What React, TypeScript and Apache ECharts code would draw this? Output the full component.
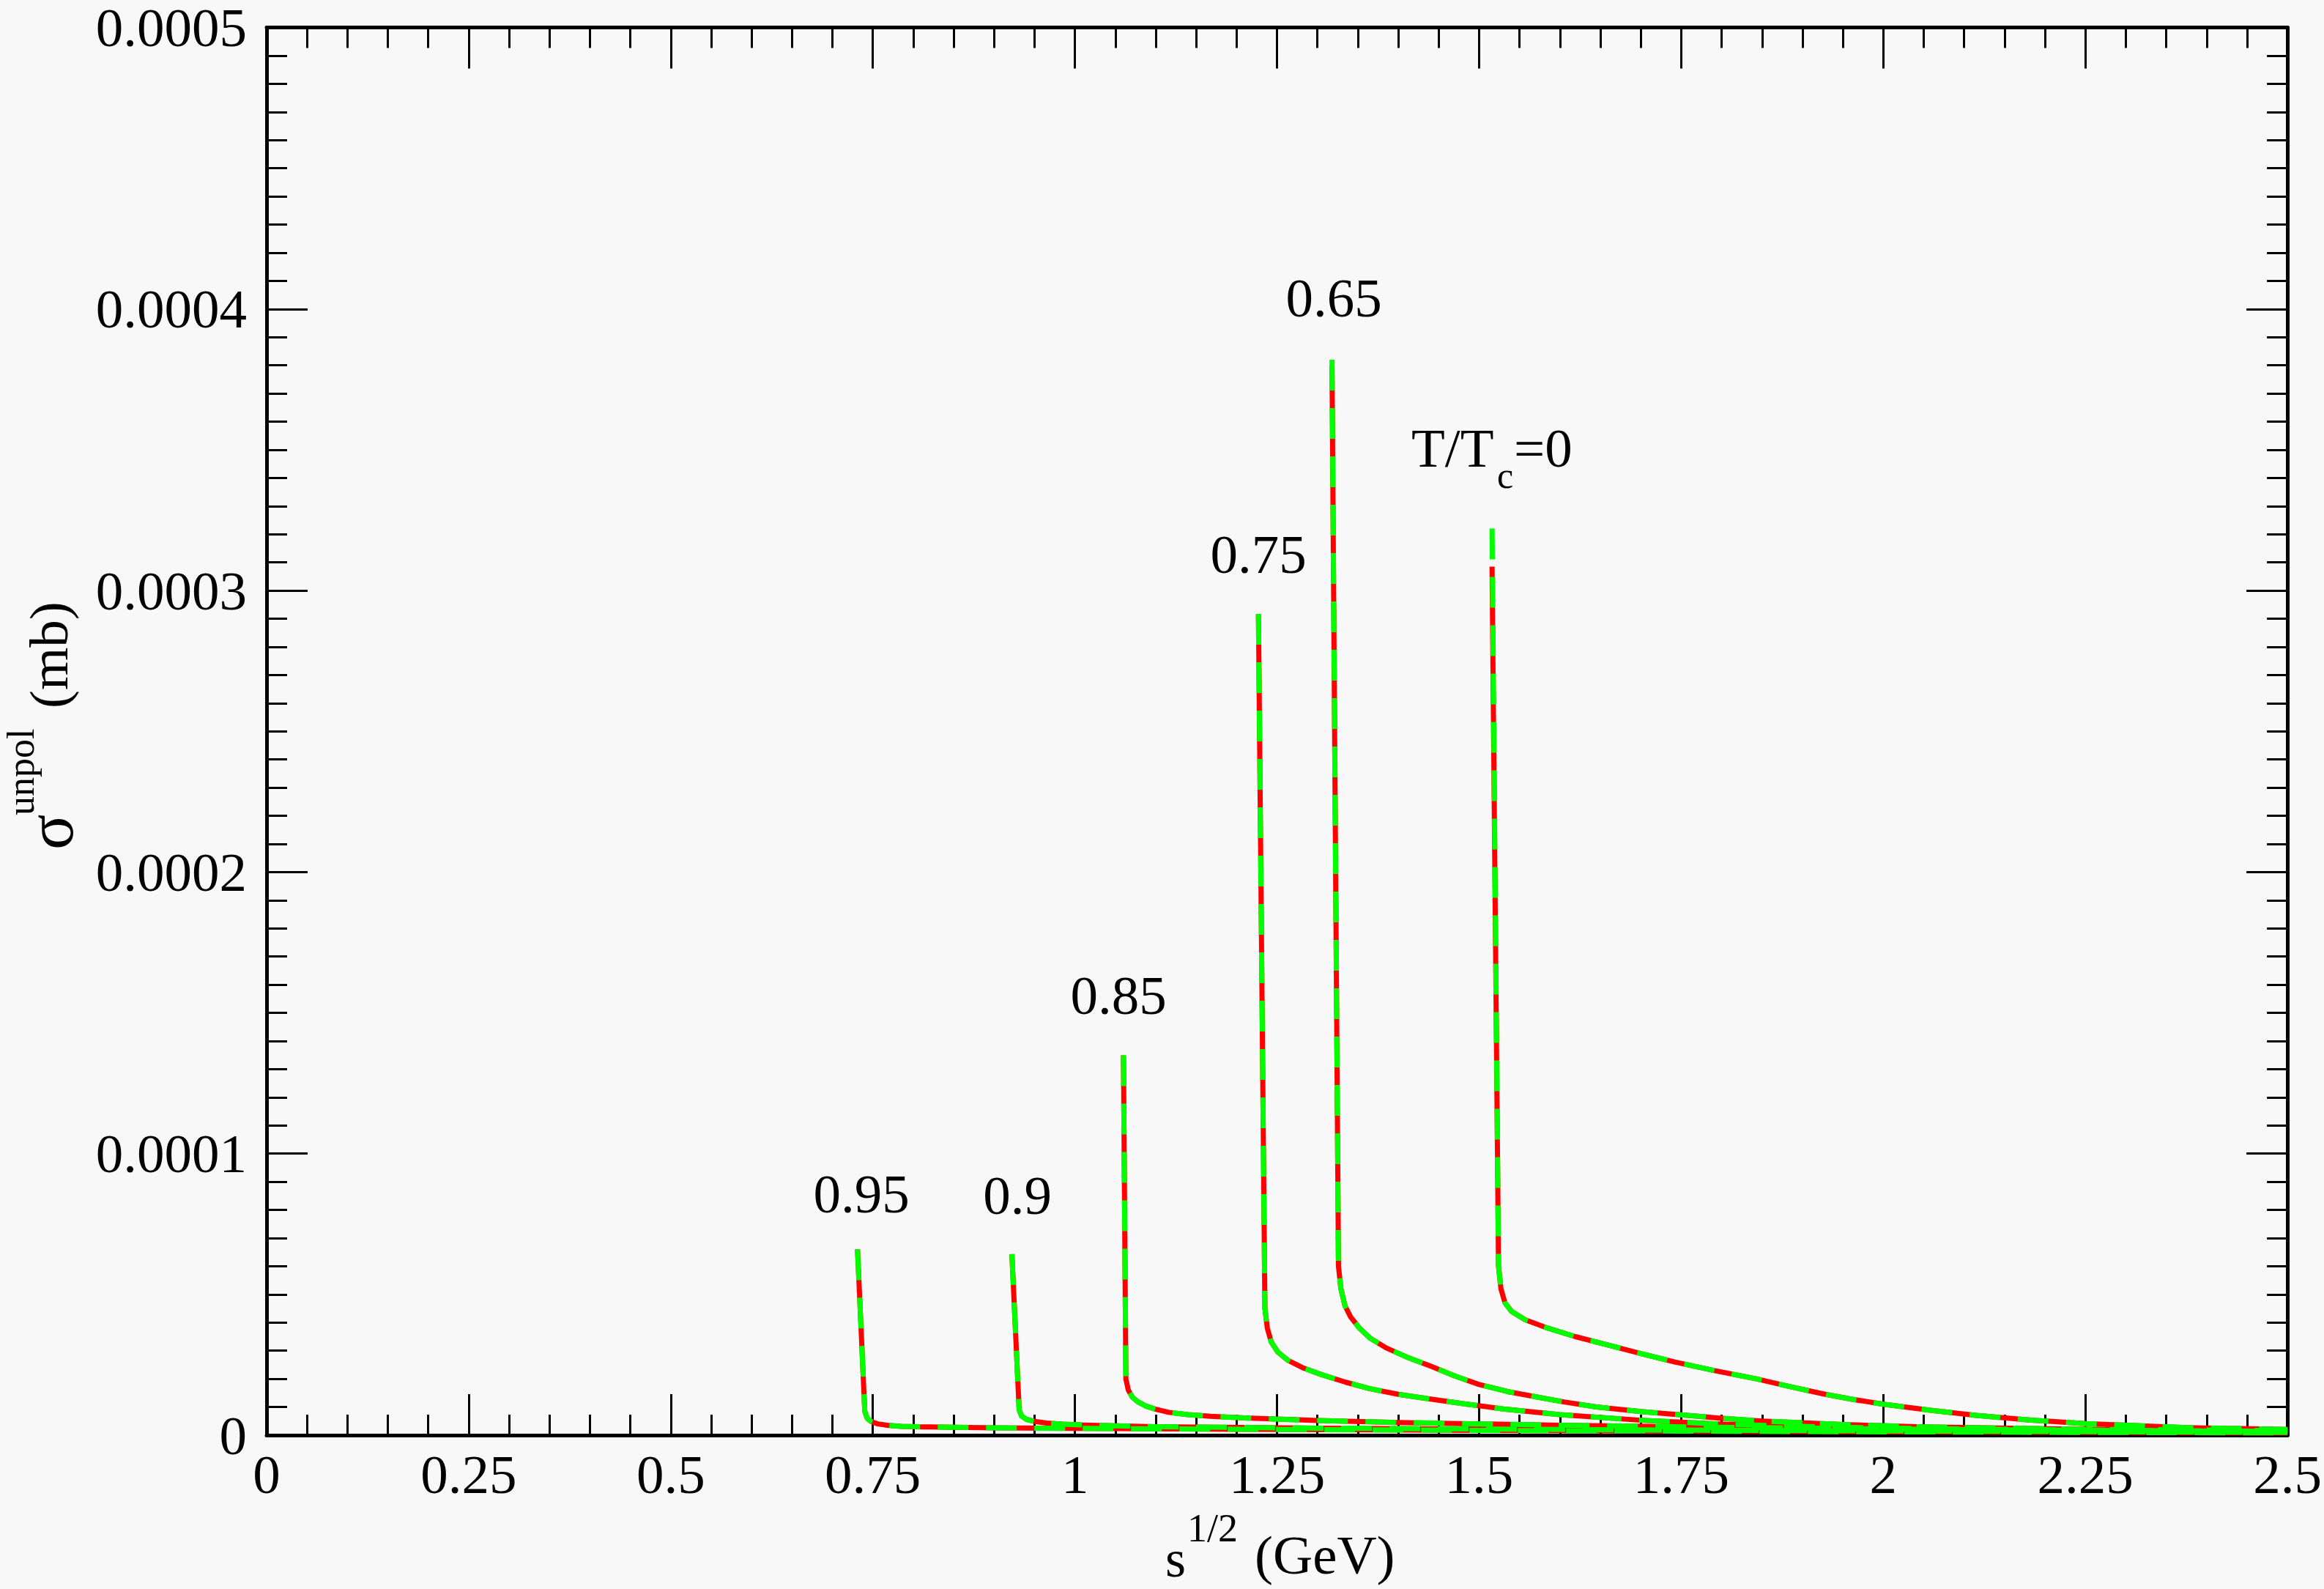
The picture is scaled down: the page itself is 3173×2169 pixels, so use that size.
import React, { useEffect, useRef } from "react";
import * as echarts from "echarts";

// ---- data (x: sqrt(s) in GeV, y: sigma in mb) ----
const X_095 = [0.731, 0.74, 0.743, 0.748, 0.756, 0.768, 0.785, 0.81, 0.85, 0.9, 1.0, 1.2, 1.5, 2.0, 2.5];
const Y_095 = [6.6e-5, 8.5e-6, 6.0e-6, 4.8e-6, 4.0e-6, 3.5e-6, 3.15e-6, 2.95e-6, 2.8e-6, 2.6e-6, 2.4e-6, 2.1e-6, 1.7e-6, 1.2e-6, 0.8e-6];

const X_090 = [0.922, 0.931, 0.934, 0.94, 0.95, 0.965, 0.985, 1.01, 1.05, 1.1, 1.3, 1.6, 2.0, 2.5];
const Y_090 = [6.43e-5, 9.0e-6, 6.8e-6, 5.6e-6, 4.9e-6, 4.3e-6, 3.9e-6, 3.6e-6, 3.3e-6, 3.0e-6, 2.5e-6, 2.0e-6, 1.5e-6, 1.0e-6];

const X_085 = [1.06, 1.063, 1.066, 1.071, 1.078, 1.088, 1.1, 1.116, 1.14, 1.168, 1.21, 1.3, 1.4, 1.6, 1.8, 2.0, 2.25, 2.5];
const Y_085 = [1.349e-4, 2.0e-5, 1.6e-5, 1.35e-5, 1.18e-5, 1.03e-5, 9.2e-6, 8.1e-6, 7.3e-6, 6.7e-6, 6.1e-6, 5.2e-6, 4.5e-6, 3.5e-6, 2.8e-6, 2.2e-6, 1.7e-6, 1.3e-6];

const X_075 = [1.227, 1.235, 1.238, 1.243, 1.251, 1.264, 1.283, 1.305, 1.335, 1.365, 1.4, 1.44, 1.485, 1.53, 1.6, 1.7, 1.8, 1.9, 2.0, 2.25, 2.5];
const Y_075 = [2.917e-4, 4.5e-5, 3.8e-5, 3.3e-5, 2.95e-5, 2.65e-5, 2.38e-5, 2.15e-5, 1.88e-5, 1.65e-5, 1.45e-5, 1.28e-5, 1.1e-5, 9.3e-6, 7.3e-6, 5.3e-6, 3.9e-6, 3.1e-6, 2.5e-6, 1.8e-6, 1.3e-6];

const X_065 = [1.318, 1.326, 1.329, 1.334, 1.341, 1.352, 1.365, 1.385, 1.41, 1.44, 1.47, 1.5, 1.535, 1.567, 1.605, 1.645, 1.7, 1.75, 1.8, 1.85, 1.95, 2.05, 2.25, 2.5];
const Y_065_RED = [3.8e-4, 6.0e-5, 5.2e-5, 4.6e-5, 4.2e-5, 3.8e-5, 3.45e-5, 3.1e-5, 2.78e-5, 2.45e-5, 2.1e-5, 1.8e-5, 1.55e-5, 1.38e-5, 1.18e-5, 1.0e-5, 8.4e-6, 7.2e-6, 6.0e-6, 5.0e-6, 3.8e-6, 2.9e-6, 2.1e-6, 1.6e-6];
const Y_065_GREEN = [3.82e-4, 6.0e-5, 5.2e-5, 4.6e-5, 4.2e-5, 3.8e-5, 3.45e-5, 3.1e-5, 2.78e-5, 2.45e-5, 2.1e-5, 1.8e-5, 1.55e-5, 1.38e-5, 1.18e-5, 1.0e-5, 8.4e-6, 7.2e-6, 6.0e-6, 5.0e-6, 3.8e-6, 2.9e-6, 2.1e-6, 1.6e-6];

const X_000 = [1.516, 1.524, 1.527, 1.532, 1.54, 1.557, 1.585, 1.619, 1.66, 1.7, 1.742, 1.79, 1.843, 1.885, 1.925, 1.96, 2.0, 2.06, 2.115, 2.18, 2.25, 2.375, 2.5];
const Y_000_RED = [3.085e-4, 6.0e-5, 5.2e-5, 4.7e-5, 4.4e-5, 4.1e-5, 3.8e-5, 3.5e-5, 3.2e-5, 2.9e-5, 2.6e-5, 2.3e-5, 2.0e-5, 1.72e-5, 1.47e-5, 1.28e-5, 1.1e-5, 8.8e-6, 7.0e-6, 5.4e-6, 4.1e-6, 2.7e-6, 2.0e-6];
const Y_000_GREEN = [3.22e-4, 6.0e-5, 5.2e-5, 4.7e-5, 4.4e-5, 4.1e-5, 3.8e-5, 3.5e-5, 3.2e-5, 2.9e-5, 2.6e-5, 2.3e-5, 2.0e-5, 1.72e-5, 1.47e-5, 1.28e-5, 1.1e-5, 8.8e-6, 7.0e-6, 5.4e-6, 4.1e-6, 2.7e-6, 2.0e-6];

const CURVES = [
  { x: X_095, red: Y_095, green: Y_095 },
  { x: X_090, red: Y_090, green: Y_090 },
  { x: X_085, red: Y_085, green: Y_085 },
  { x: X_075, red: Y_075, green: Y_075 },
  { x: X_065, red: Y_065_RED, green: Y_065_GREEN },
  { x: X_000, red: Y_000_RED, green: Y_000_GREEN },
];

const X_MIN = 0;
const X_MAX = 2.5;
const X_STEP = 0.25;
const Y_MIN = 0;
const Y_MAX = 0.0005;
const Y_STEP = 0.0001;

const FONT = "'Liberation Serif', 'Times New Roman', serif";

function pairs(xs: number[], ys: number[]) {
  return xs.map((x, i) => [x, ys[i]]);
}

export default function App() {
  const ref = useRef<HTMLDivElement>(null);

  useEffect(() => {
    if (!ref.current) return;
    const chart = echarts.init(ref.current, undefined, { renderer: "svg" });

    const axisCommon = {
      axisLine: { show: true, onZero: false, lineStyle: { color: "#000", width: 5 } },
      splitLine: { show: false },
    };

    const series: any[] = [];
    CURVES.forEach((c) => {
      series.push({
        type: "line",
        xAxisIndex: 0,
        yAxisIndex: 0,
        data: pairs(c.x, c.red),
        symbol: "none",
        showSymbol: false,
        silent: true,
        z: 2,
        lineStyle: { color: "#ff0000", width: 7, type: "solid", join: "round" },
      });
      series.push({
        type: "line",
        xAxisIndex: 0,
        yAxisIndex: 0,
        data: pairs(c.x, c.green),
        symbol: "none",
        showSymbol: false,
        silent: true,
        z: 3,
        lineStyle: { color: "#00ff00", width: 7, type: [42, 24], join: "round" },
      });
    });

    const labelStyle = (text: string, x: number, y: number, size = 75, align = "center") => ({
      type: "text",
      x,
      y,
      silent: true,
      style: {
        text,
        fill: "#000",
        fontSize: size,
        fontFamily: FONT,
        align,
        verticalAlign: "middle",
      },
    });

    chart.setOption({
      animation: false,
      backgroundColor: "#f8f8f8",
      grid: { left: 364, top: 24, right: 46, bottom: 210, containLabel: false },
      xAxis: [
        {
          type: "value",
          min: X_MIN,
          max: X_MAX,
          interval: X_STEP,
          position: "bottom",
          ...axisCommon,
          axisTick: { show: true, inside: true, length: 56, lineStyle: { color: "#000", width: 3 } },
          minorTick: { show: true, splitNumber: 5, length: 28, lineStyle: { color: "#000", width: 3 } },
          axisLabel: {
            show: true,
            margin: 16,
            color: "#000",
            fontSize: 75,
            fontFamily: FONT,
          },
        },
        {
          type: "value",
          min: X_MIN,
          max: X_MAX,
          interval: X_STEP,
          position: "top",
          ...axisCommon,
          axisTick: { show: true, inside: true, length: 56, lineStyle: { color: "#000", width: 3 } },
          minorTick: { show: true, splitNumber: 5, length: 28, lineStyle: { color: "#000", width: 3 } },
          axisLabel: { show: false },
        },
      ],
      yAxis: [
        {
          type: "value",
          min: Y_MIN,
          max: Y_MAX,
          interval: Y_STEP,
          position: "left",
          ...axisCommon,
          axisTick: { show: true, inside: true, length: 56, lineStyle: { color: "#000", width: 3 } },
          minorTick: { show: true, splitNumber: 10, length: 28, lineStyle: { color: "#000", width: 3 } },
          axisLabel: {
            show: true,
            margin: 27,
            color: "#000",
            fontSize: 75,
            fontFamily: FONT,
            formatter: (v: number) => (Math.abs(v) < 1e-12 ? "0" : v.toFixed(4)),
          },
        },
        {
          type: "value",
          min: Y_MIN,
          max: Y_MAX,
          interval: Y_STEP,
          position: "right",
          ...axisCommon,
          axisTick: { show: true, inside: true, length: 56, lineStyle: { color: "#000", width: 3 } },
          minorTick: { show: true, splitNumber: 10, length: 28, lineStyle: { color: "#000", width: 3 } },
          axisLabel: { show: false },
        },
      ],
      series,
      graphic: [
        // x axis title: s^{1/2} (GeV)
        labelStyle("s", 1591, 2128, 72, "left"),
        labelStyle("1/2", 1621, 2086, 54, "left"),
        labelStyle("(GeV)", 1713, 2122, 75, "left"),
        // y axis title: sigma^{unpol}(mb), rotated
        {
          type: "group",
          x: 74,
          y: 990,
          rotation: Math.PI / 2,
          silent: true,
          children: [
            labelStyle("σ", -170, -6, 90, "left"),
            labelStyle("unpol", -123, -46, 52, "left"),
            labelStyle("(mb)", 23, -8, 75, "left"),
          ],
        },
        // curve annotations
        labelStyle("0.95", 1176, 1629),
        labelStyle("0.9", 1389, 1631),
        labelStyle("0.85", 1527, 1358),
        labelStyle("0.75", 1718, 756),
        labelStyle("0.65", 1821, 406),
        labelStyle("T/T", 1927, 611, 75, "left"),
        labelStyle("c", 2044, 649, 50, "left"),
        labelStyle("=0", 2067, 611, 75, "left"),
      ],
    });

    return () => {
      chart.dispose();
    };
  }, []);

  return (
    <div
      ref={ref}
      style={{ position: "fixed", left: 0, top: 0, width: 3173, height: 2169 }}
    />
  );
}
